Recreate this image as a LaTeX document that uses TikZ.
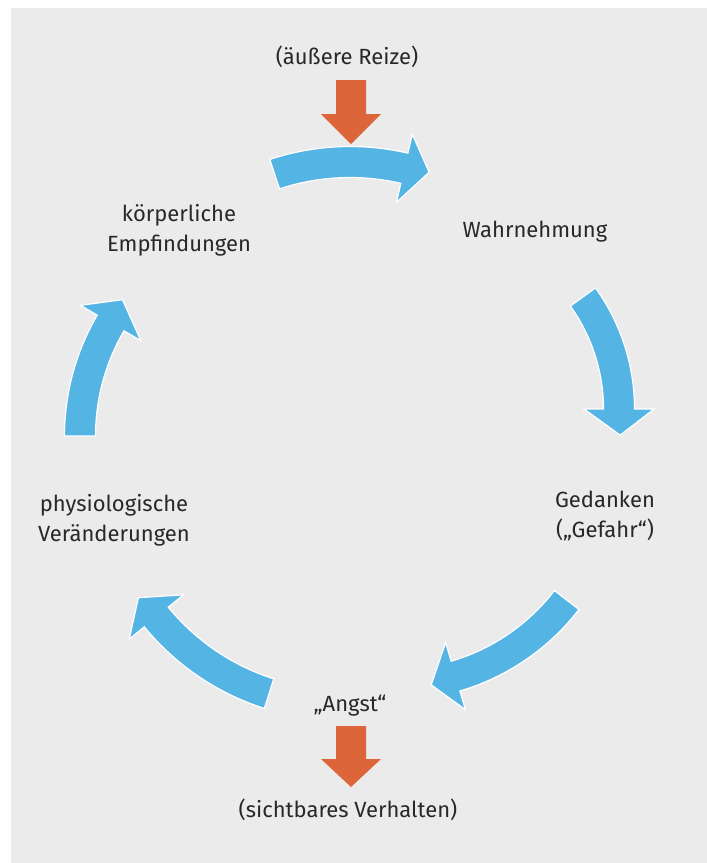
\documentclass[tikz,border=0pt]{standalone}
\usepackage{fontspec}
\setmainfont{Fira Sans}
\definecolor{panelgray}{RGB}{235,235,235}
\definecolor{cycleblue}{RGB}{84,180,228}
\definecolor{cueorange}{RGB}{221,101,58}
\definecolor{textgray}{RGB}{40,40,40}
\tikzset{
  lbl/.style={text=textgray, font=\fontsize{22}{30}\selectfont, align=center, inner sep=0pt},
  ringfill/.style={fill=cycleblue, draw=white, line width=1.2pt},
  cue/.style={fill=cueorange}
}
\newcommand{\ringarrow}[5]{%
  \begin{scope}[shift={(#1)}]
    \pgfmathsetmacro\ro{#2+15.5}\pgfmathsetmacro\ri{#2-15.5}
    \pgfmathsetmacro\ho{#2+35}\pgfmathsetmacro\hi{#2-35}\pgfmathsetmacro\rt{#2+3}
    \filldraw[ringfill] (#3:\ro) arc[start angle=#3, end angle=#4, radius=\ro]
      -- (#4:\ho) -- (#5:\rt) -- (#4:\hi) -- (#4:\ri)
      arc[start angle=#4, end angle=#3, radius=\ri] -- cycle;
  \end{scope}}
\begin{document}
\begin{tikzpicture}[x=1pt, y=1pt]
  \useasboundingbox (0,0) rectangle (707,-863);
  \fill[panelgray] (11,-8) rectangle (707,-863);

  \node[lbl] (reize) at (347,-57) {(äußere Reize)};
  \node[lbl] (koerper) at (179,-230) {körperliche\\Empfindungen};
  \node[lbl] (wahr) at (535,-232) {Wahrnehmung};
  \node[lbl] (gedanken) at (605,-516) {Gedanken\\(„Gefahr“)};
  \node[lbl] (physio) at (114,-520) {physiologische\\Veränderungen};
  \node[lbl] (angst) at (350,-706) {„Angst“};
  \node[lbl] (verhalten) at (348,-810) {(sichtbares Verhalten)};

  \fill[cue] (336,-80) -- (366,-80) -- (366,-114) -- (381,-114) -- (351,-144)
    -- (321,-114) -- (336,-114) -- cycle;
  \fill[cue] (336,-726) -- (366,-726) -- (366,-759) -- (381,-759) -- (351,-787)
    -- (321,-759) -- (336,-759) -- cycle;

  \ringarrow{350,-402}{240}{108.3}{76.9}{71}
  \ringarrow{427,-409}{192}{35.7}{0}{-7.7}
  \ringarrow{394,-467}{218}{-37.6}{-73.6}{-80.3}
  \ringarrow{342,-465}{240}{-107.7}{-140.7}{-146.9}
  \ringarrow{304,-436}{224}{180}{149.7}{143.1}
\end{tikzpicture}
\end{document}
